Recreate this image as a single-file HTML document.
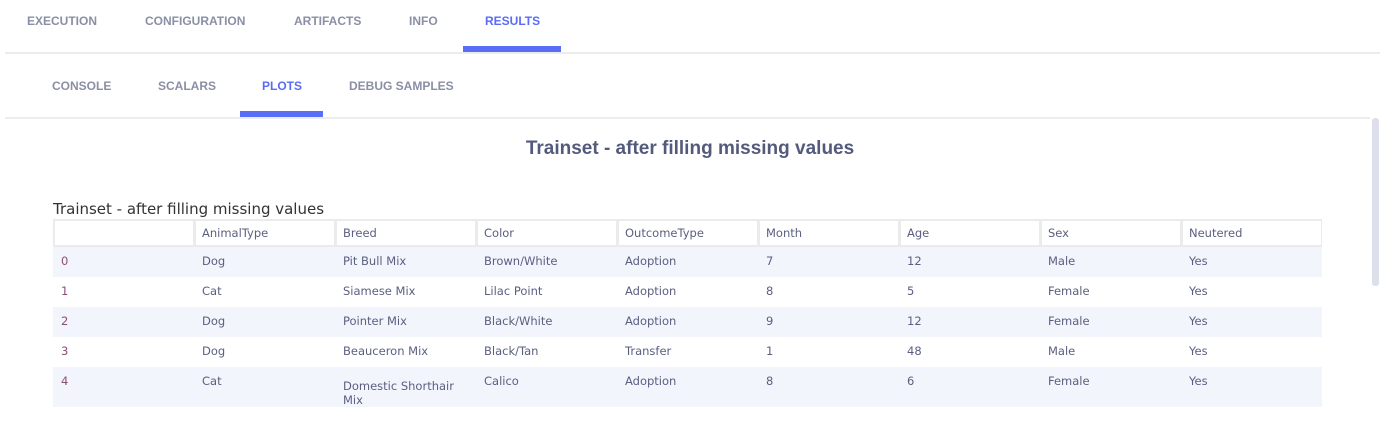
<!DOCTYPE html>
<html><head><style>
body{margin:0;width:1383px;height:438px;background:#fff;font-family:"Liberation Sans",sans-serif;position:relative;overflow:hidden}
.t{position:absolute;font-weight:bold;font-size:12px;color:#8a8fa5;letter-spacing:0}
.a{color:#5a6cf6}
.bar{position:absolute;background:#5a6df7}
.line{position:absolute;background:#ececec}
.cell{position:absolute;font-family:"DejaVu Sans",sans-serif;font-size:11.5px;color:#5a5f80;line-height:15px}
</style></head><body>
<div class="t" style="left:27px;top:14px">EXECUTION</div>
<div class="t" style="left:145px;top:14px">CONFIGURATION</div>
<div class="t" style="left:294px;top:14px">ARTIFACTS</div>
<div class="t" style="left:409px;top:14px">INFO</div>
<div class="t a" style="left:485px;top:14px">RESULTS</div>
<div class="bar" style="left:463px;top:46px;width:98px;height:6px"></div>
<div class="line" style="left:5px;top:52px;width:1375px;height:2px"></div>
<div class="t" style="left:52px;top:79px">CONSOLE</div>
<div class="t" style="left:158px;top:79px">SCALARS</div>
<div class="t a" style="left:262px;top:79px">PLOTS</div>
<div class="t" style="left:349px;top:79px">DEBUG SAMPLES</div>
<div class="bar" style="left:240px;top:111px;width:83px;height:6px"></div>
<div class="line" style="left:5px;top:117px;width:1365px;height:2px"></div>
<div style="position:absolute;left:1372px;top:118px;width:7px;height:168px;background:#dde0ec;border-radius:3px"></div>
<div style="position:absolute;left:0;width:1380px;top:138px;text-align:center;font-size:19px;font-weight:bold;color:#545a7c">Trainset - after filling missing values</div>
<div style="position:absolute;left:53px;top:200px;font-family:'DejaVu Sans',sans-serif;font-size:15px;color:#333">Trainset - after filling missing values</div>
<div style="position:absolute;left:53px;top:219px;width:1269px;height:28px;background:#ebebeb"></div>
<div style="position:absolute;left:53px;top:247px;width:1269px;height:30px;background:#f2f5fc"></div>
<div style="position:absolute;left:53px;top:307px;width:1269px;height:30px;background:#f2f5fc"></div>
<div style="position:absolute;left:53px;top:367px;width:1269px;height:40px;background:#f2f5fc"></div>
<div id="h"></div>
<script>
var cols=[53,194,335,476,617,758,899,1040,1181],W=141;
var hdr=["","AnimalType","Breed","Color","OutcomeType","Month","Age","Sex","Neutered"];
var rows=[["0","Dog","Pit Bull Mix","Brown/White","Adoption","7","12","Male","Yes"],
["1","Cat","Siamese Mix","Lilac Point","Adoption","8","5","Female","Yes"],
["2","Dog","Pointer Mix","Black/White","Adoption","9","12","Female","Yes"],
["3","Dog","Beauceron Mix","Black/Tan","Transfer","1","48","Male","Yes"],
["4","Cat","Domestic Shorthair<br>Mix","Calico","Adoption","8","6","Female","Yes"]];
var s="";
cols.forEach(function(x,i){
 s+='<div style="position:absolute;left:'+(x+2)+'px;top:221px;width:'+(W-3)+'px;height:24px;background:#fff"></div>';
 s+='<div class="cell" style="left:'+(x+8)+'px;top:226px">'+hdr[i]+'</div>';
 rows.forEach(function(r,j){
  var y=254+30*j+(i==2&&j==4?5:0);
  s+='<div class="cell" style="left:'+(x+8)+'px;top:'+y+'px;'+(i==0?'color:#8a4f75;':'')+(i==2&&j==4?'line-height:14px;':'')+'">'+r[i]+'</div>';
 });
});
document.getElementById('h').innerHTML=s;
</script>
</body></html>
